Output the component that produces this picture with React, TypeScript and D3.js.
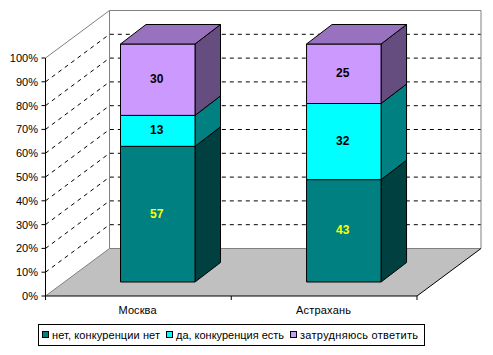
import React from "react";
import * as d3 from "d3";

const categories = ["Москва", "Астрахань"];
const seriesNames = ["нет, конкуренции нет", "да, конкуренция есть", "затрудняюсь ответить"];
const seriesNo = [57, 43];
const seriesYes = [13, 32];
const seriesUnsure = [30, 25];
const tickValues = [0, 10, 20, 30, 40, 50, 60, 70, 80, 90, 100];
const frontColors = ["#008080", "#00FFFF", "#CC99FF"];
const sideColors = ["#004040", "#008080", "#654D80"];
const topColor = "#9972BF";
const labelColors = ["#FFFF00", "#000000", "#000000"];
const legendSwatchX = [43, 167, 291];
const legendTextX = [52, 176, 300];
const legendTextW = [108, 108, 118];
const categoryTextX = [118.5, 296];
const categoryTextW = [38, 55];

const font = "'Liberation Sans', Arial, sans-serif";

export default function App() {
  const axisY = d3.scaleLinear().domain([0, 100]).range([296, 58]);
  const barY = d3.scaleLinear().domain([0, 100]).range([282, 44]);
  const x = d3.scaleBand<string>().domain(categories).range([45.5, 417]);
  const depthX = 64, depthY = 47.5;
  const barW = 74.5, barDX = 25.5, barDY = 19.5;
  const barOffsets = [75, 75.3];
  const line = d3.line();
  const series = [seriesNo, seriesYes, seriesUnsure];
  const stacks = d3.stack<number>().keys([0, 1, 2] as any).value((i, k: any) => series[k][i])(categories.map((_, i) => i));
  const x0 = 45.5, x1 = 417, yB = axisY(0);

  return (
    <svg width={493} height={355} style={{ position: "absolute", left: 0, top: 0, background: "#fff" }} fontFamily={font}>
      {/* floor */}
      <path d={line([[x0, yB], [x0 + depthX, yB - depthY], [x1 + depthX, yB - depthY], [x1, yB]])! + "Z"} fill="#C0C0C0" />
      {/* gridlines */}
      {tickValues.slice(1, -1).map((t) => {
        const y = axisY(t);
        return (
          <path key={t} fill="none" stroke="#000" strokeDasharray="4 4" strokeWidth={1}
            d={line([[x0, y], [x0 + depthX, y - depthY], [x1 + depthX, y - depthY]])!} />
        );
      })}
      {/* wall outline */}
      <path fill="none" stroke="#808080" d={line([[x0, axisY(100)], [x0 + depthX, axisY(100) - depthY], [x1 + depthX, axisY(100) - depthY], [x1 + depthX, yB - depthY], [x0 + depthX, yB - depthY], [x0, yB]])!} />
      <path fill="none" stroke="#808080" d={line([[x0 + depthX, axisY(100) - depthY], [x0 + depthX, yB - depthY]])!} />
      <path fill="none" stroke="#000" d={line([[x1, yB], [x1 + depthX, yB - depthY]])!} />
      {/* axes */}
      <path fill="none" stroke="#000" d={line([[x0, axisY(100)], [x0, yB], [x1, yB]])!} />
      {tickValues.map((t) => (
        <g key={t}>
          <line x1={x0 - 4} x2={x0} y1={axisY(t)} y2={axisY(t)} stroke="#000" />
          <text x={38} y={axisY(t) + 4} textAnchor="end" fontSize={11} fill="#000">{t}%</text>
        </g>
      ))}
      {[0, 1, 2].map((i) => {
        const px = x0 + i * x.bandwidth();
        return <line key={i} x1={px} x2={px} y1={yB} y2={yB + 4} stroke="#000" />;
      })}
      {categories.map((c, i) => (
        <text key={c} x={categoryTextX[i]} y={314} fontSize={11} fill="#000" textLength={categoryTextW[i]} lengthAdjust="spacing">{c}</text>
      ))}
      {/* bars */}
      {categories.map((c, ci) => {
        const left = x(c)! + barOffsets[ci];
        const right = left + barW;
        return (
          <g key={c} stroke="#000" strokeWidth={1} strokeLinejoin="round">
            {stacks.map((s, si) => {
              const yLow = barY(s[ci][0]);
              const yHigh = barY(s[ci][1]);
              return (
                <g key={si}>
                  <path fill={sideColors[si]} d={line([[right, yLow], [right + barDX, yLow - barDY], [right + barDX, yHigh - barDY], [right, yHigh]])! + "Z"} />
                  <path fill={frontColors[si]} d={line([[left, yLow], [right, yLow], [right, yHigh], [left, yHigh]])! + "Z"} />
                  {si === 2 && (
                    <path fill={topColor} d={line([[left, yHigh], [left + barDX, yHigh - barDY], [right + barDX, yHigh - barDY], [right, yHigh]])! + "Z"} />
                  )}
                  <text x={(left + right) / 2 - 1} y={(yLow + yHigh) / 2 + 3.5} textAnchor="middle" fontSize={12} fontWeight={700} fill={labelColors[si]} stroke="none">
                    {series[si][ci]}
                  </text>
                </g>
              );
            })}
          </g>
        );
      })}
      {/* legend */}
      <rect x={38.5} y={324.5} width={386} height={21} fill="#fff" stroke="#000" />
      {seriesNames.map((n, i) => (
        <g key={n}>
          <rect x={legendSwatchX[i] - 0.5} y={331.5} width={6} height={6} fill={frontColors[i]} stroke="#000" />
          <text x={legendTextX[i]} y={338.5} fontSize={11} fill="#000" textLength={legendTextW[i]} lengthAdjust="spacing">{n}</text>
        </g>
      ))}
    </svg>
  );
}
